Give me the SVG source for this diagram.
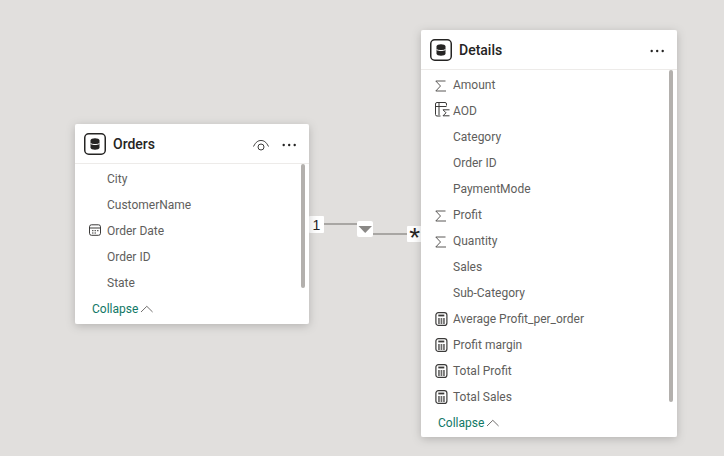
<svg xmlns="http://www.w3.org/2000/svg" width="724" height="456" viewBox="0 0 724 456">
<style>
.card{fill:#fff;filter:url(#sh)}
.div{stroke:#edebe9;stroke-width:1;fill:none}
.title{font:500 14px Roboto,"Open Sans",sans-serif;fill:#252423}
.f{font:12px Roboto,"Open Sans",sans-serif;fill:#605e5c}
.col{font:12px Roboto,"Open Sans",sans-serif;fill:#117865}
.bar{fill:#b3b0ad}
.ic{fill:none;stroke:#3b3a39;stroke-width:1}
.conn{stroke:#a8a6a3;stroke-width:2;fill:none}
.badge{fill:#fff}
.lbl{font:14px "Liberation Sans",sans-serif;fill:#252423}
</style>
<defs>
<filter id="sh" x="-15%" y="-15%" width="130%" height="130%"><feDropShadow dx="0" dy="2" stdDeviation="5" flood-color="#000" flood-opacity="0.2"/></filter>
<g id="db"><rect x="0.75" y="0.75" width="20.5" height="20.5" rx="4" fill="#fff" stroke="#252423" stroke-width="1.5"/><path d="M6.500 7.500c0-3 9-3 9 0v7c0 3-9 3-9 0z" fill="#252423"/><path d="M6.500 10.600c2 1.300 7 1.300 9 0" fill="none" stroke="#fff" stroke-width="1"/></g>
<g id="dots" fill="#252423"><circle cx="1.200" cy="1.200" r="1.200"/><circle cx="6.700" cy="1.200" r="1.200"/><circle cx="12.200" cy="1.200" r="1.200"/></g>
<path id="sum" d="M10.500 1H0.800l4.700 5L0.800 11H11" fill="none" stroke="#484644" stroke-width="0.900"/>
<g id="calc"><rect x="0.600" y="0.600" width="11" height="12.800" rx="2.500" fill="none" stroke="#3b3a39" stroke-width="1.200"/><path d="M3 3.500h6" stroke="#3b3a39" stroke-width="1.800"/><path d="M2.800 7h1.700M5.300 7h1.700M7.800 7h1.700M2.800 9h1.700M5.300 9h1.700M7.800 9h1.700M2.800 11h1.700M5.300 11h1.700M7.800 11h1.700" stroke="#3b3a39" stroke-width="1.300"/></g>
<path id="chev" d="M0 6L5.800 0.300L11.600 6" fill="none" stroke="#605e5c" stroke-width="0.900"/>
</defs>
<rect width="724" height="456" fill="#e1dfdd"/>
<g id="connectors">
<path class="conn" d="M324 224H358"/>
<path class="conn" d="M373 234H408"/>
<rect class="badge" x="309" y="216" width="15" height="17" rx="1"/>
<text class="lbl" x="316.500" y="230" text-anchor="middle">1</text>
<rect class="badge" x="357" y="221" width="16" height="16" rx="2"/>
<path d="M358.500 226H372L365.200 233z" fill="#8a8886"/>
<rect class="badge" x="407" y="226" width="15" height="16" rx="1"/>
<text x="414.800" y="247" text-anchor="middle" style="font:28px 'Liberation Sans',sans-serif;fill:#252423">*</text>
</g>
<g id="orders">
<rect class="card" x="75" y="124" width="234" height="200" rx="2"/>
<path class="div" d="M75 163.500H309"/>
<use href="#db" x="84" y="133"/>
<text class="title" x="113" y="149">Orders</text>
<g class="ic"><path d="M253.500 146.500C256 141.500 258.500 140.500 261 140.500S266 141.500 268.500 146.500"/><circle cx="261" cy="147" r="3"/></g>
<use href="#dots" x="282.500" y="143.800"/>
<rect class="bar" x="301" y="164" width="4" height="124" rx="2"/>
<text class="f" x="107" y="183">City</text>
<text class="f" x="107" y="209">CustomerName</text>
<g><rect x="89.500" y="224.800" width="11" height="10.500" rx="2" class="ic"/><path d="M90 228h10" class="ic"/><path d="M92 230.700h1.500M94.500 230.700h1.500M97 230.700h1.500M92 233h1.500M94.500 233h1.500" stroke="#3b3a39"/></g>
<text class="f" x="107" y="235">Order Date</text>
<text class="f" x="107" y="261">Order ID</text>
<text class="f" x="107" y="287">State</text>
<text class="col" x="92" y="313">Collapse</text>
<use href="#chev" x="141" y="306"/>
</g>
<g id="details">
<rect class="card" x="421" y="30" width="256" height="407" rx="2"/>
<path class="div" d="M421 69.500H677"/>
<use href="#db" x="430" y="39"/>
<text class="title" x="459" y="55">Details</text>
<use href="#dots" x="650.500" y="49.800"/>
<rect class="bar" x="669" y="70" width="4" height="332" rx="2"/>
<use href="#sum" x="435" y="80"/>
<text class="f" x="453" y="89">Amount</text>
<g class="ic"><path d="M446.500 105.500v-1.500a1.500 1.500 0 0 0-1.500-1.500h-8a1.500 1.500 0 0 0-1.500 1.500v10.500a1.500 1.500 0 0 0 1.500 1.500h3.500M435.500 106.500h11M439 103v12"/><path d="M449.500 109.800h-6.500l3 3-3 3h6.500"/></g>
<text class="f" x="453" y="115">AOD</text>
<text class="f" x="453" y="141">Category</text>
<text class="f" x="453" y="167">Order ID</text>
<text class="f" x="453" y="193">PaymentMode</text>
<use href="#sum" x="435" y="210"/>
<text class="f" x="453" y="219">Profit</text>
<use href="#sum" x="435" y="236"/>
<text class="f" x="453" y="245">Quantity</text>
<text class="f" x="453" y="271">Sales</text>
<text class="f" x="453" y="297">Sub-Category</text>
<use href="#calc" x="435.300" y="312"/>
<text class="f" x="453" y="323">Average Profit_per_order</text>
<use href="#calc" x="435.300" y="338"/>
<text class="f" x="453" y="349">Profit margin</text>
<use href="#calc" x="435.300" y="364"/>
<text class="f" x="453" y="375">Total Profit</text>
<use href="#calc" x="435.300" y="390"/>
<text class="f" x="453" y="401">Total Sales</text>
<text class="col" x="438" y="427">Collapse</text>
<use href="#chev" x="487" y="420"/>
</g>
</svg>
